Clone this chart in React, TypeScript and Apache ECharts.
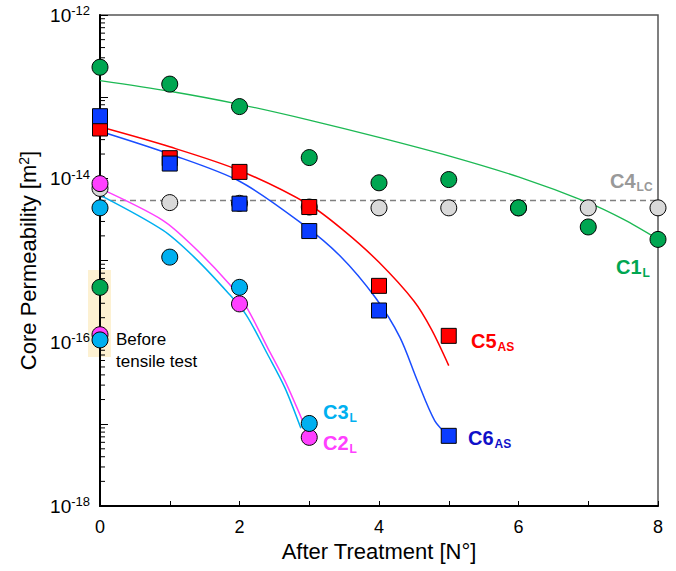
import React, { useEffect, useRef } from 'react';
import * as echarts from 'echarts';

// ---- measured points (x = treatment number) ----
const treatments = [0, 1, 2, 3, 4, 5, 6, 7, 8];
const c1Values = [2.3e-13, 1.43e-13, 7.6e-14, 1.81e-14, 8.9e-15, 9.75e-15, 4.4e-15, 2.57e-15, 1.81e-15];
const c4Values = [7.6e-15, 5.1e-15, 5.0e-15, 4.5e-15, 4.4e-15, 4.4e-15, 4.4e-15, 4.4e-15, 4.4e-15];
const c5X = [0, 1, 2, 3, 4, 5];
const c5Values = [4.1e-14, 1.78e-14, 1.21e-14, 4.5e-15, 4.9e-16, 1.2e-16];
const c6X = [0, 1, 2, 3, 4, 5];
const c6Values = [5.8e-14, 1.53e-14, 4.95e-15, 2.29e-15, 2.45e-16, 7.2e-18];
const c2X = [0, 2, 3];
const c2Values = [8.7e-15, 2.95e-16, 6.9e-18];
const c3X = [0, 1, 2, 3];
const c3Values = [4.4e-15, 1.1e-15, 4.7e-16, 1.02e-17];
// before tensile test (x = 0)
const beforeC1 = 4.7e-16;
const beforeC2 = 1.24e-16;
const beforeC3 = 1.07e-16;
// C4 mean (dashed line)
const c4Mean = 5.4e-15;

// ---- fitted curves ----
const c1FitX = [0, 1, 2, 3, 4, 5, 6, 7, 7.5, 8];
const c1Fit = [1.58e-13, 1.17e-13, 8.1e-14, 5.2e-14, 3.2e-14, 1.9e-14, 1.05e-14, 5.1e-15, 3.2e-15, 1.82e-15];
const c5FitX = [0, 1, 2, 3, 3.5, 4, 4.5, 4.75, 5.0];
const c5Fit = [4.3e-14, 2.45e-14, 1.26e-14, 4.8e-15, 2.3e-15, 9.5e-16, 3.2e-16, 1.45e-16, 5.2e-17];
const c6FitX = [0, 1, 2, 2.9, 3.45, 3.95, 4.3, 4.55, 4.8, 5.0];
const c6Fit = [3.8e-14, 2.0e-14, 9.3e-15, 2.8e-15, 1.12e-15, 3.5e-16, 1.15e-16, 3.4e-17, 1.1e-17, 7.2e-18];
const c2FitX = [0, 0.9, 1.35, 1.85, 2.1, 2.4, 2.65, 2.9];
const c2Fit = [7.6e-15, 3.1e-15, 1.45e-15, 5.2e-16, 2.7e-16, 8.7e-17, 3.4e-17, 1.12e-17];
const c3FitX = [0, 0.9, 1.35, 1.85, 2.1, 2.4, 2.65, 2.88];
const c3Fit = [6.3e-15, 2.35e-15, 1.1e-15, 3.9e-16, 2.14e-16, 7.2e-17, 2.8e-17, 8.9e-18];

// ---- axis ----
const xMin = 0;
const xMax = 8;
const yMin = 1e-18;
const yMax = 1e-12;
const decadeExponents = [-18, -17, -16, -15, -14, -13];
const minorMultipliers = [2, 3, 4, 5, 6, 7, 8, 9];

const GREEN = '#00a651';
const GRAY = '#d9d9d9';
const RED = '#ff0000';
const BLUE = '#0a3cff';
const CYAN = '#00b0f0';
const MAGENTA = '#ff40ff';
const FONT = 'Liberation Sans, Arial, sans-serif';

const zip = (xs: number[], ys: number[]) => xs.map((x, i) => [x, ys[i]]);

export default function App() {
  const ref = useRef<HTMLDivElement>(null);
  useEffect(() => {
    if (!ref.current) return;
    const chart = echarts.init(ref.current, null, { renderer: 'svg' });

    const minorTicks: number[][] = [];
    decadeExponents.forEach((e) => minorMultipliers.forEach((m) => minorTicks.push([xMin, m * Math.pow(10, e)])));

    const pointStyle = (color: string) => ({ color, borderColor: '#000', borderWidth: 1, opacity: 1 });
    const fitLine = (name: string, xs: number[], ys: number[], color: string, width = 1.5) => ({
      name,
      type: 'line',
      data: zip(xs, ys),
      smooth: 0.3,
      showSymbol: false,
      symbol: 'none',
      lineStyle: { color, width },
      z: 2,
      silent: true,
    });

    const label = (x: number, y: number, main: string, s: string, color: string) => ({
      type: 'text',
      x,
      y,
      z: 100,
      style: {
        text: `{m|${main}}{s|${s}}`,
        rich: {
          m: { fontSize: 20, fontWeight: 'bold', fill: color, fontFamily: FONT, lineHeight: 24 },
          s: { fontSize: 12, fontWeight: 'bold', fill: color, fontFamily: FONT, lineHeight: 12, verticalAlign: 'bottom', padding: [0, 0, 0, 1] },
        },
        verticalAlign: 'middle',
        align: 'left',
      },
    });

    chart.setOption({
      animation: false,
      grid: {
        left: 100,
        right: 18,
        top: 15,
        bottom: 65,
        show: true,
        borderColor: '#555',
        borderWidth: 1.5,
        backgroundColor: 'transparent',
      },
      xAxis: {
        type: 'value',
        min: xMin,
        max: xMax,
        interval: 1,
        name: 'After Treatment [N°]',
        nameLocation: 'middle',
        nameGap: 34,
        nameTextStyle: { fontSize: 22, color: '#000', fontFamily: FONT },
        axisLine: { show: true, lineStyle: { color: '#000', width: 2 } },
        axisTick: { show: true, inside: true, length: 5, lineStyle: { color: '#000', width: 1 } },
        axisLabel: {
          fontSize: 18,
          color: '#000',
          fontFamily: FONT,
          margin: 12,
          formatter: (v: number) => (v % 2 === 0 ? String(v) : ''),
        },
        splitLine: { show: false },
      },
      yAxis: {
        type: 'log',
        logBase: 10,
        min: yMin,
        max: yMax,
        interval: 1,
        name: 'Core Permeability [m{sup|2}]',
        nameLocation: 'middle',
        nameGap: 56,
        nameRotate: 90,
        nameTextStyle: {
          fontSize: 22,
          color: '#000',
          fontFamily: FONT,
          rich: { sup: { fontSize: 14, color: '#000', fontFamily: FONT, verticalAlign: 'top', lineHeight: 14 } },
        },
        axisLine: { show: true, lineStyle: { color: '#000', width: 2 } },
        axisTick: { show: true, inside: true, length: 8, lineStyle: { color: '#000', width: 1 } },
        axisLabel: {
          margin: 10,
          fontSize: 19,
          color: '#000',
          fontFamily: FONT,
          formatter: (v: number) => {
            const e = Math.round(Math.log10(v));
            return e % 2 === 0 ? `{base|10}{sup|${e}}` : '';
          },
          rich: {
            base: { fontSize: 19, color: '#000', fontFamily: FONT, lineHeight: 22 },
            sup: { fontSize: 13, color: '#000', fontFamily: FONT, lineHeight: 13, verticalAlign: 'top' },
          },
        },
        splitLine: { show: false },
      },
      graphic: [
        {
          type: 'rect',
          shape: { x: 88, y: 270, width: 23, height: 87 },
          style: { fill: '#fdf1d2' },
          z: -10,
          silent: true,
        },
        {
          type: 'text',
          x: 116,
          y: 339,
          z: 100,
          style: { text: 'Before', fontSize: 17, fill: '#000', fontFamily: FONT, verticalAlign: 'middle' },
        },
        {
          type: 'text',
          x: 116,
          y: 361,
          z: 100,
          style: { text: 'tensile test', fontSize: 17, fill: '#000', fontFamily: FONT, verticalAlign: 'middle' },
        },
        label(610, 181, 'C4', 'LC', '#999999'),
        label(616, 267, 'C1', 'L', GREEN),
        label(471, 341, 'C5', 'AS', RED),
        label(468, 438, 'C6', 'AS', '#1010c8'),
        label(323, 412, 'C3', 'L', CYAN),
        label(323, 443, 'C2', 'L', MAGENTA),
      ],
      series: [
        {
          name: 'minor ticks',
          type: 'custom',
          data: minorTicks,
          silent: true,
          clip: false,
          z: 1,
          renderItem: (params: any, api: any) => {
            const p = api.coord([api.value(0), api.value(1)]);
            return {
              type: 'line',
              shape: { x1: p[0], y1: p[1], x2: p[0] + 5, y2: p[1] },
              style: { stroke: '#000', lineWidth: 1 },
            };
          },
        },
        {
          name: 'C4 mean',
          type: 'line',
          data: [[xMin, c4Mean], [xMax, c4Mean]],
          showSymbol: false,
          symbol: 'none',
          lineStyle: { color: '#808080', width: 1.5, type: [6, 4] },
          z: 2,
          silent: true,
        },
        fitLine('C1 fit', c1FitX, c1Fit, '#1db954', 1.3),
        fitLine('C5 fit', c5FitX, c5Fit, RED),
        fitLine('C6 fit', c6FitX, c6Fit, '#1a4dff'),
        fitLine('C2 fit', c2FitX, c2Fit, MAGENTA),
        fitLine('C3 fit', c3FitX, c3Fit, CYAN),
        {
          name: 'C4',
          type: 'scatter',
          data: zip(treatments, c4Values),
          symbol: 'circle',
          symbolSize: 16,
          itemStyle: pointStyle(GRAY),
          z: 3,
          clip: false,
        },
        {
          name: 'C1',
          type: 'scatter',
          data: [...zip(treatments, c1Values), [0, beforeC1]],
          symbol: 'circle',
          symbolSize: 16,
          itemStyle: pointStyle(GREEN),
          z: 4,
          clip: false,
        },
        {
          name: 'C5',
          type: 'scatter',
          data: zip(c5X, c5Values),
          symbol: 'rect',
          symbolSize: 15,
          itemStyle: pointStyle(RED),
          z: 5,
          clip: false,
        },
        {
          name: 'C6',
          type: 'scatter',
          data: zip(c6X, c6Values),
          symbol: 'rect',
          symbolSize: 15,
          itemStyle: pointStyle(BLUE),
          z: 5,
          clip: false,
        },
        {
          name: 'C2',
          type: 'scatter',
          data: [...zip(c2X, c2Values), [0, beforeC2]],
          symbol: 'circle',
          symbolSize: 16,
          itemStyle: pointStyle(MAGENTA),
          z: 6,
          clip: false,
        },
        {
          name: 'C3',
          type: 'scatter',
          data: [...zip(c3X, c3Values), [0, beforeC3]],
          symbol: 'circle',
          symbolSize: 16,
          itemStyle: pointStyle(CYAN),
          z: 6,
          clip: false,
        },
      ],
    });
    return () => chart.dispose();
  }, []);
  return (
    <div
      ref={ref}
      style={{ position: 'fixed', left: 0, top: 0, width: 676, height: 571, background: '#fff' }}
    />
  );
}
